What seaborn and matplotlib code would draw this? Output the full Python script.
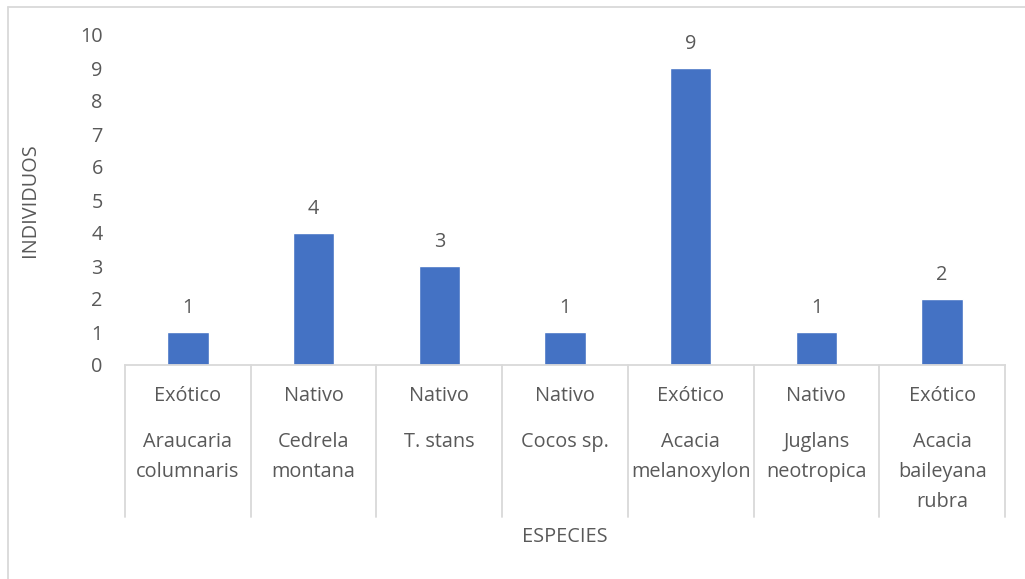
import matplotlib
matplotlib.use("Agg")
import matplotlib.pyplot as plt
import seaborn as sns
import pandas as pd
from matplotlib.lines import Line2D

# Data
especies = ["Araucaria\ncolumnaris", "Cedrela\nmontana", "T. stans", "Cocos sp.",
            "Acacia\nmelanoxylon", "Juglans\nneotropica", "Acacia\nbaileyana\nrubra"]
origen = ["Exótico", "Nativo", "Nativo", "Nativo", "Exótico", "Nativo", "Exótico"]
individuos = [1, 4, 3, 1, 9, 1, 2]

df = pd.DataFrame({"especie": especies, "origen": origen, "individuos": individuos})

sns.set_theme(style="white")
plt.rcParams["font.family"] = ["Open Sans", "DejaVu Sans"]

TEXT = "#595959"
LINE = "#D9D9D9"
BAR = "#4472C4"
W, H = 1025, 579
FS = 14.3

fig = plt.figure(figsize=(W / 100, H / 100), dpi=100)
ax = fig.add_axes([125 / W, 1 - 365 / H, 880 / W, 330 / H])

sns.barplot(data=df, x="especie", y="individuos", color=BAR, width=0.33,
            saturation=1, ax=ax, order=especies)

ax.set_ylim(0, 10)
ax.set_xlim(-0.5, len(especies) - 0.5)
ax.set_yticks(range(0, 11))
ax.tick_params(axis="y", length=0, labelsize=FS, labelcolor=TEXT, pad=16)
ax.set_xticks([])
ax.set_xlabel("")
ax.set_ylabel("")
for s in ["top", "right", "left"]:
    ax.spines[s].set_visible(False)
ax.spines["bottom"].set_color(LINE)
ax.spines["bottom"].set_linewidth(1.3)

# Value labels above bars
for i, v in enumerate(individuos):
    ax.annotate(str(v), xy=(i, v), xytext=(0, 10), textcoords="offset points",
                ha="center", va="bottom", fontsize=FS, color=TEXT)

# Two-level category axis
xt = ax.get_xaxis_transform()
def yf(px):
    return (365 - px) / 330

for b in range(len(especies) + 1):
    x = b - 0.5
    ax.add_line(Line2D([x, x], [0, yf(517)], transform=xt, color=LINE,
                       lw=1.3, clip_on=False))
for i, (o, e) in enumerate(zip(origen, especies)):
    ax.text(i, yf(396), o, transform=xt, ha="center", va="center",
            fontsize=FS, color=TEXT)
    ax.text(i, yf(432), e, transform=xt, ha="center", va="top",
            fontsize=FS, color=TEXT, linespacing=1.68)

# Axis titles
fig.text(565 / W, 1 - 537 / H, "ESPECIES", ha="center", va="center",
         fontsize=FS, color=TEXT)
fig.text(30 / W, 1 - 200 / H, "INDIVIDUOS", ha="center", va="center",
         rotation=90, fontsize=FS, color=TEXT)

# Chart area border
fig.add_artist(Line2D([8 / W, 8 / W], [0, 1 - 7 / H], transform=fig.transFigure,
                      color=LINE, lw=1.3))
fig.add_artist(Line2D([8 / W, 1], [1 - 7 / H, 1 - 7 / H], transform=fig.transFigure,
                      color=LINE, lw=1.3))

fig.savefig("out.png", dpi=100, facecolor="white")
